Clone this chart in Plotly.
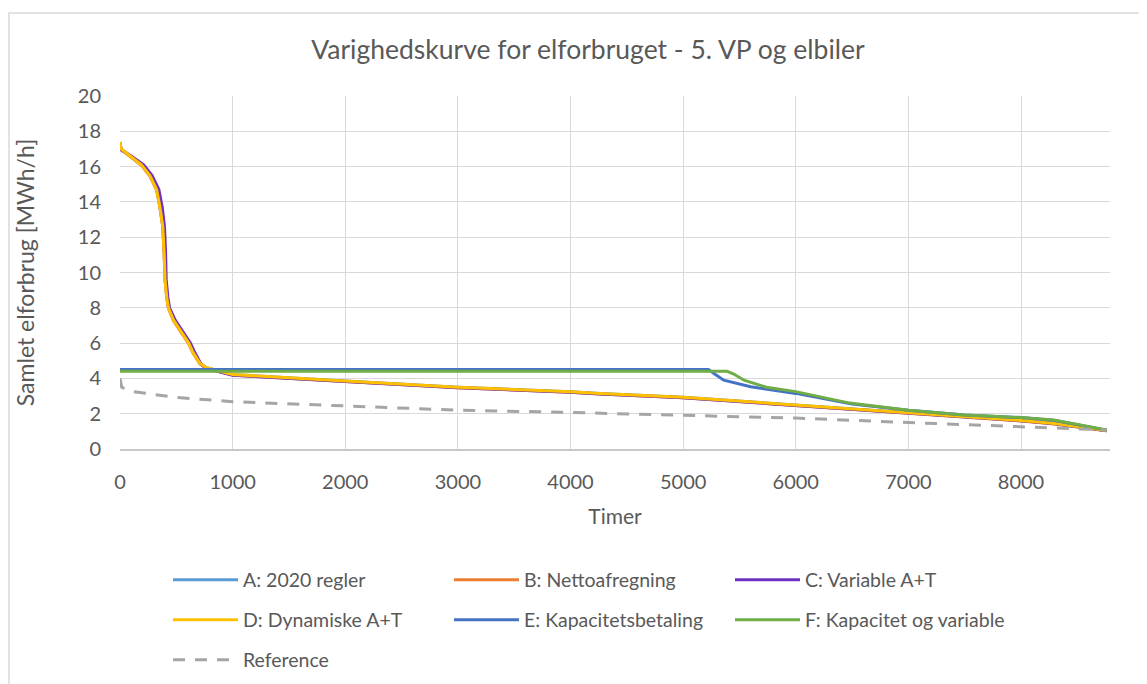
import plotly.graph_objects as go

# ---------------- data ----------------
x_A = [0, 10, 90, 190, 265, 325, 355, 380, 392, 400, 415, 430, 475, 550, 610, 650, 710, 770, 860,
       1000, 2000, 3000, 4000, 4263, 5000, 6000, 7000, 8000, 8300, 8760]
y_A = [17.4, 17.0, 16.6, 16.1, 15.5, 14.7, 13.7, 12.6, 11.1, 9.6, 8.6, 8.0, 7.3, 6.55, 6.0, 5.45, 4.85, 4.6, 4.45,
       4.22, 3.85, 3.5, 3.25, 3.15, 2.93, 2.5, 2.05, 1.62, 1.45, 1.05]

x_B = [0, 10, 90, 190, 265, 325, 355, 380, 392, 400, 415, 430, 475, 550, 610, 650, 710, 770, 860,
       1000, 2000, 3000, 4000, 4263, 5000, 6000, 7000, 8000, 8300, 8760]
y_B = [17.37, 16.97, 16.57, 16.07, 15.47, 14.67, 13.67, 12.57, 11.07, 9.57, 8.57, 7.97, 7.27, 6.52, 5.97, 5.42, 4.82, 4.57, 4.42,
       4.19, 3.82, 3.47, 3.22, 3.12, 2.9, 2.47, 2.02, 1.59, 1.42, 1.03]

x_C = [0, 10, 100, 210, 285, 345, 375, 395, 405, 410, 425, 440, 490, 565, 625, 665, 720, 770, 860,
       1000, 2000, 3000, 4000, 4263, 5000, 6000, 7000, 8000, 8300, 8760]
y_C = [17.3, 16.95, 16.6, 16.1, 15.5, 14.7, 13.7, 12.6, 11.1, 9.6, 8.6, 8.0, 7.3, 6.55, 6.0, 5.45, 4.8, 4.55, 4.4,
       4.18, 3.82, 3.47, 3.22, 3.12, 2.9, 2.47, 2.02, 1.6, 1.43, 1.04]

x_D = [0, 10, 90, 190, 265, 325, 355, 380, 392, 400, 415, 430, 475, 550, 610, 650, 710, 770, 860,
       1000, 2000, 3000, 4000, 4263, 5000, 6000, 7000, 8000, 8300, 8760]
y_D = [17.4, 17.0, 16.6, 16.1, 15.5, 14.7, 13.7, 12.6, 11.1, 9.6, 8.6, 8.0, 7.3, 6.55, 6.0, 5.45, 4.85, 4.6, 4.45,
       4.22, 3.85, 3.5, 3.25, 3.15, 2.93, 2.5, 2.05, 1.62, 1.45, 1.05]

x_E = [0, 5225, 5290, 5360, 5600, 6000, 6500, 7000, 7500, 8000, 8300, 8760]
y_E = [4.5, 4.5, 4.2, 3.9, 3.53, 3.15, 2.55, 2.2, 1.93, 1.78, 1.62, 1.07]

x_F = [0, 5390, 5450, 5540, 5740, 6000, 6480, 7000, 7500, 8000, 8290, 8760]
y_F = [4.4, 4.4, 4.25, 3.9, 3.5, 3.25, 2.6, 2.2, 1.93, 1.78, 1.64, 1.08]

x_ref = [0, 15, 120, 500, 1000, 2000, 3000, 4000, 5000, 6000, 7000, 8000, 8760]
y_ref = [4.0, 3.5, 3.25, 2.92, 2.68, 2.42, 2.2, 2.07, 1.9, 1.75, 1.5, 1.27, 1.08]

names = ["A: 2020 regler", "B: Nettoafregning", "C: Variable A+T",
         "D: Dynamiske A+T", "E: Kapacitetsbetaling", "F: Kapacitet og variable", "Reference"]
colors = ["#5B9BD5", "#ED7D31", "#7030C0", "#FFC000", "#4472C4", "#70AD47", "#A5A5A5"]

x_ticks = [0, 1000, 2000, 3000, 4000, 5000, 6000, 7000, 8000]
y_ticks = [0, 2, 4, 6, 8, 10, 12, 14, 16, 18, 20]

title_text = "Varighedskurve for elforbruget - 5. VP og elbiler"
x_title = "Timer"
y_title = "Samlet elforbrug [MWh/h]"

# ---------------- figure ----------------
FONT = "Lato"
TXT = "#595959"
OFF = 8  # page body margin offset

series = [(x_A, y_A), (x_B, y_B), (x_C, y_C), (x_D, y_D), (x_E, y_E), (x_F, y_F), (x_ref, y_ref)]
legend_ids = ["legend", "legend", "legend", "legend2", "legend2", "legend2", "legend3"]

fig = go.Figure()
for (xs, ys), name, col, lg in zip(series, names, colors, legend_ids):
    line = dict(color=col, width=3)
    if name == "Reference":
        line["dash"] = "12px,10px"
    fig.add_trace(go.Scatter(x=xs, y=ys, mode="lines", name=name, line=line, legend=lg,
                             hoverinfo="skip"))

W, H = 1147 - OFF, 684 - OFF
L, R, T, B = 120 - OFF, 1110 - OFF, 96 - OFF, 449 - OFF
pw, ph = R - L, B - T


def px2x(px):
    return (px - OFF - L) / pw


def py2y(py):
    return (B - (py - OFF)) / ph


leg_common = dict(orientation="h", xanchor="left", yanchor="middle",
                  entrywidth=201, entrywidthmode="pixels",
                  font=dict(family=FONT, size=19.5, color=TXT),
                  bgcolor="rgba(0,0,0,0)", itemwidth=65, traceorder="normal")

fig.update_layout(
    width=W, height=H,
    margin=dict(l=L, r=W - R, t=T, b=H - B, pad=0, autoexpand=False),
    paper_bgcolor="white", plot_bgcolor="white",
    title=dict(text=title_text, x=(588 - OFF) / W, xanchor="center",
               y=1 - (50 - OFF) / H, yanchor="middle",
               font=dict(family=FONT, size=26.5, color=TXT)),
    font=dict(family=FONT, color=TXT),
    showlegend=True,
    legend=dict(x=px2x(168), y=py2y(580), **leg_common),
    legend2=dict(x=px2x(168), y=py2y(620), **leg_common),
    legend3=dict(x=px2x(168), y=py2y(660), **leg_common),
    xaxis=dict(range=[0, 8790], tickvals=x_ticks, ticktext=[str(v) for v in x_ticks],
               showgrid=True, gridcolor="#D9D9D9", gridwidth=1.3,
               showline=True, linecolor="#C8C8C8", linewidth=1.5, mirror=False,
               zeroline=False, ticks="", ticklabelstandoff=14,
               tickfont=dict(family=FONT, size=20, color=TXT),
               title=dict(text=x_title, font=dict(family=FONT, size=21, color=TXT), standoff=18)),
    yaxis=dict(range=[0, 20], tickvals=y_ticks, ticktext=[str(v) for v in y_ticks],
               showgrid=True, gridcolor="#D9D9D9", gridwidth=1.3,
               showline=False, zeroline=False, ticks="", ticklabelstandoff=18,
               tickfont=dict(family=FONT, size=20, color=TXT),
               title=dict(text=y_title, font=dict(family=FONT, size=23, color=TXT), standoff=36)),
    shapes=[dict(type="rect", xref="paper", yref="paper",
                 x0=px2x(9), x1=px2x(1180), y0=py2y(720), y1=py2y(13),
                 line=dict(color="#D9D9D9", width=1.5), fillcolor="rgba(0,0,0,0)", layer="below")],
)

fig.write_html("out.html")
